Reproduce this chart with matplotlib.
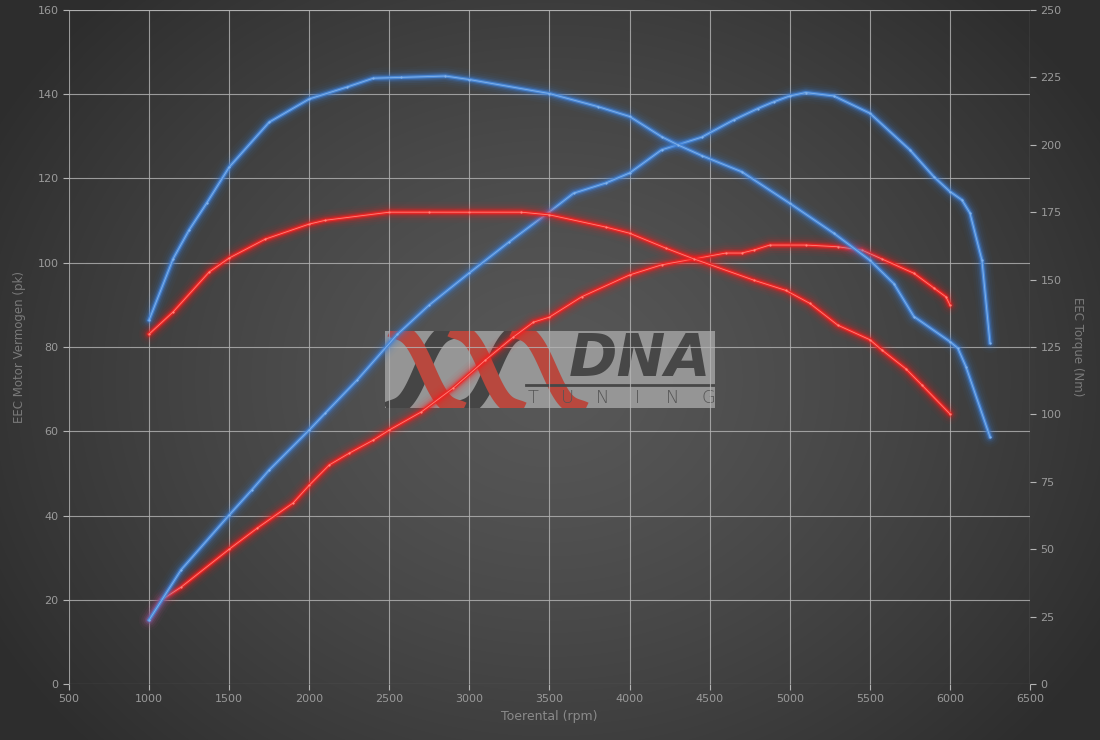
import numpy as np
import matplotlib
matplotlib.use("Agg")
import matplotlib.pyplot as plt
from matplotlib.patches import Rectangle

# power (pk): tuned (blue) and stock (red)
rpm_pw_tuned = [1000, 1200, 1500, 1640, 1750, 2000, 2100, 2300, 2550, 2750, 3000, 3250,
                3500, 3650, 3850, 4000, 4200, 4300, 4450, 4650, 4800, 4900, 5000,
                5100, 5275, 5500, 5750, 5900, 6000, 6075, 6125, 6200, 6250]
pw_tuned = [15.2, 27.1, 40.1, 46, 50.8, 60.3, 64.3, 72.2, 83, 90, 97.6, 105,
            112.1, 116.5, 118.9, 121.3, 126.8, 128, 129.8, 133.9, 136.6, 138.2, 139.6,
            140.4, 139.6, 135.5, 126.8, 120.4, 116.9, 114.9, 111.8, 100.6, 81]

rpm_pw_stock = [1000, 1075, 1200, 1500, 1675, 1900, 2000, 2125, 2250, 2400, 2500, 2700,
                2900, 3100, 3275, 3400, 3500, 3700, 4000, 4200, 4400, 4600, 4700,
                4775, 4875, 5100, 5300, 5450, 5575, 5775, 5900, 5975, 6000]
pw_stock = [15.2, 19.9, 23, 32, 37, 43, 47.2, 52, 54.8, 57.9, 60.3, 64.6,
            70.3, 76.9, 82.4, 85.9, 87.1, 91.9, 97.1, 99.5, 100.9, 102.3, 102.3,
            103, 104.2, 104.2, 103.8, 103, 100.9, 97.5, 94, 91.9, 90]

# torque (Nm): tuned (blue) and stock (red)
rpm_tq_tuned = [1000, 1150, 1250, 1360, 1500, 1750, 2000, 2235, 2400, 2575, 2850, 3000,
                3500, 3800, 4000, 4200, 4300, 4450, 4700, 5000, 5275, 5500, 5650,
                5775, 6000, 6050, 6100, 6250]
tq_tuned = [135, 157.7, 168.4, 178.4, 191.7, 208.4, 217, 221.4, 224.7, 225, 225.5, 224.2,
            219, 214.2, 210.5, 203, 200, 196, 190, 178.3, 167.2, 157.2, 148.5,
            136.3, 127, 124.5, 117.7, 91.7]

rpm_tq_stock = [1000, 1150, 1375, 1500, 1725, 2000, 2100, 2500, 2750, 3000, 3325, 3500,
                3850, 4000, 4225, 4400, 4775, 4975, 5125, 5300, 5500, 5575, 5725,
                5825, 6000]
tq_stock = [129.8, 138, 152.8, 158, 165, 170.6, 172, 175, 175, 175, 175, 174,
            169.5, 167.2, 161.7, 157.7, 149.8, 146, 141.2, 133.1, 127.7, 123.9, 116.9,
            110.9, 100.2]

x_ticks = list(range(500, 6501, 500))
left_ticks = list(range(0, 161, 20))
right_ticks = list(range(0, 251, 25))
logo_letters = ["T", "U", "N", "I", "N", "G"]

W, H = 1100, 740
fig = plt.figure(figsize=(W / 100, H / 100), dpi=100)

# radial gradient background
bg = fig.add_axes([0, 0, 1, 1])
yy, xx = np.mgrid[0:H, 0:W]
r = np.sqrt(((xx - 550) / 640.0) ** 2 + ((yy - 380) / 540.0) ** 2)
r = np.clip(r, 0, 1)
c0, c1 = 0x58 / 255, 0x2d / 255
img = c0 + (c1 - c0) * r ** 1.3
bg.imshow(np.dstack([img, img, img]), aspect="auto", extent=[0, 1, 0, 1])
bg.axis("off")

# logo (drawn under the chart)
logo = fig.add_axes([385 / W, (H - 408) / H, 330 / W, 77 / H])
logo.set_xlim(0, 330)
logo.set_ylim(0, 77)
logo.axis("off")
box = Rectangle((0, 0), 330, 77, facecolor="#a2a2a2", alpha=0.85, lw=0)
logo.add_patch(box)
t = np.linspace(-0.1, 1.1, 80)
s = t - 0.12 * np.sin(2 * np.pi * t)
for x0 in (8, 78):
    ln, = logo.plot(x0 + 58 * t, 77 * s, color="#454545", lw=12,
                    solid_capstyle="butt")
    ln.set_clip_path(box)
for x0 in (12, 72, 134):
    ln, = logo.plot(x0 + 60 * t, 77 - 77 * s, color="#b8483e", lw=12,
                    solid_capstyle="butt")
    ln.set_clip_path(box)
logo.text(326, 49, "DNA", fontsize=42, fontweight="bold", style="italic",
          color="#474747", ha="right", va="center")
logo.plot([141, 329], [23, 23], color="#474747", lw=2)
for i, ch in enumerate(logo_letters):
    logo.text(148 + 35 * i, 10, ch, fontsize=13, color="#555555",
              ha="center", va="center", fontweight="light")

ax = fig.add_axes([69 / W, (H - 684) / H, (1030 - 69) / W, (684 - 10) / H])
ax.set_facecolor("none")
ax2 = ax.twinx()
ax.set_xlim(500, 6500)
ax.set_ylim(0, 160)
ax2.set_ylim(0, 250)

grid_col = "#b5b5b5"
ax.set_xticks(x_ticks)
ax.set_yticks(left_ticks)
ax2.set_yticks(right_ticks)
ax.grid(True, color=grid_col, lw=0.8, alpha=0.8)
for a in (ax, ax2):
    for sp in a.spines.values():
        sp.set_visible(False)
    a.tick_params(colors="#9a9a9a", labelsize=8, length=4, width=0.8)
ax.tick_params(axis="both", color=grid_col)
ax2.tick_params(axis="y", color=grid_col)
ax.axhline(160, color=grid_col, lw=0.8, alpha=0.8)
ax.axvline(6500, color=grid_col, lw=0.8, alpha=0.8)

ax.set_xlabel("Toerental (rpm)", color="#8a8a8a", fontsize=9)
ax.set_ylabel("EEC Motor Vermogen (pk)", color="#7a7a7a", fontsize=8.5, labelpad=8)
ax2.set_ylabel("EEC Torque (Nm)", color="#7a7a7a", fontsize=8.5, rotation=-90,
               labelpad=16)


def glow(a, x, y, core, glowc, light):
    for lw, al in [(15, 0.035), (11.5, 0.06), (8.5, 0.1), (6, 0.18), (4.2, 0.32)]:
        a.plot(x, y, color=glowc, lw=lw, alpha=al, solid_capstyle="round",
               solid_joinstyle="round")
    a.plot(x, y, color=core, lw=2.3, solid_joinstyle="round")
    a.plot(x, y, color=light, lw=0.6, marker="o", ms=1.6, mew=0,
           solid_joinstyle="round")


blue = ("#4a88d6", "#3a7fdc", "#82b2ea")
red = ("#ee2626", "#ff1a1a", "#ff8278")
glow(ax2, rpm_tq_stock, tq_stock, *red)
glow(ax, rpm_pw_stock, pw_stock, *red)
glow(ax2, rpm_tq_tuned, tq_tuned, *blue)
glow(ax, rpm_pw_tuned, pw_tuned, *blue)

fig.savefig("out.png", dpi=100)
